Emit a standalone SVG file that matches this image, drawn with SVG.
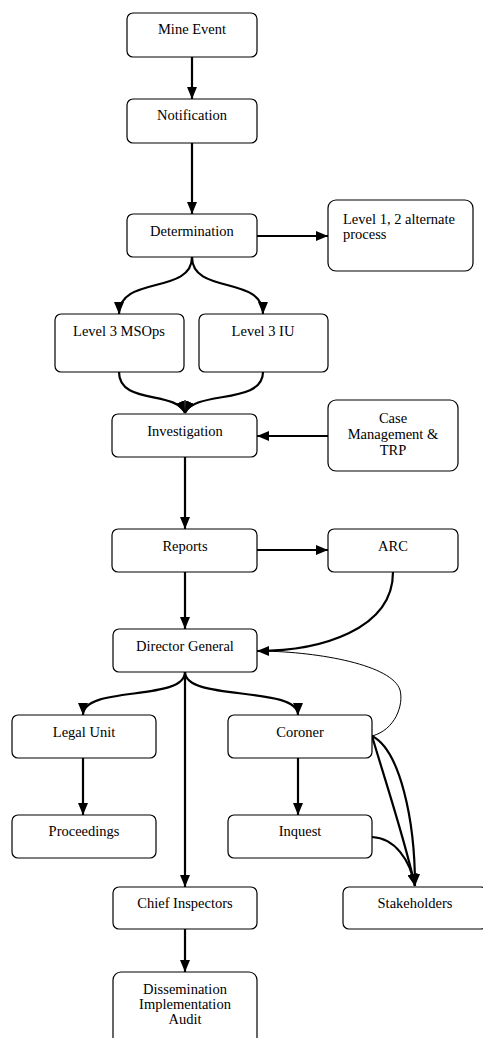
<svg xmlns="http://www.w3.org/2000/svg" width="483" height="1038" viewBox="0 0 483 1038">
<style>
.box{fill:#fff;stroke:#000;stroke-width:1.2}
text{font-family:"Liberation Serif","Times New Roman",serif;font-size:14.5px;fill:#000}
.c{text-anchor:middle}
.e{fill:none;stroke:#000;stroke-width:2.2}
.t{fill:none;stroke:#000;stroke-width:1}
</style>
<defs>
<marker id="ah" markerUnits="userSpaceOnUse" markerWidth="12" markerHeight="10" refX="12" refY="5" orient="auto">
<path d="M0,0 L12,5 L0,10 z" fill="#000"/>
</marker>
</defs>
<rect width="483" height="1038" fill="#fff"/>
<g id="connectors">
<path class="e" d="M192,57 V99" marker-end="url(#ah)"/>
<path class="e" d="M192,143 V214" marker-end="url(#ah)"/>
<path class="e" d="M257,236 H328" marker-end="url(#ah)"/>
<path class="e" d="M192,257 C192,295 119,275 119,314" marker-end="url(#ah)"/>
<path class="e" d="M192,257 C192,295 263,275 263,314" marker-end="url(#ah)"/>
<path class="e" d="M119,372 C119,405 175,390 185,413" marker-end="url(#ah)"/>
<path class="e" d="M263,372 C263,405 195,390 185,413" marker-end="url(#ah)"/>
<path class="e" d="M328,436 H257" marker-end="url(#ah)"/>
<path class="e" d="M185,457 V529" marker-end="url(#ah)"/>
<path class="e" d="M257,550 H328" marker-end="url(#ah)"/>
<path class="e" d="M185,572 V629" marker-end="url(#ah)"/>
<path class="t" d="M372,736 C395,730 404,705 400,690 C392,665 320,652 262,651"/>
<path class="e" d="M393,572 C393,630 320,651 257,651" marker-end="url(#ah)"/>
<path class="e" d="M185,672 C185,702 83,685 83,715" marker-end="url(#ah)"/>
<path class="e" d="M185,672 C185,702 298,685 298,715" marker-end="url(#ah)"/>
<path class="e" d="M185,672 V887" marker-end="url(#ah)"/>
<path class="e" d="M83,758 V815" marker-end="url(#ah)"/>
<path class="e" d="M298,758 V815" marker-end="url(#ah)"/>
<path class="e" d="M185,929 V972" marker-end="url(#ah)"/>
<path class="e" d="M372,736 C385,780 405,840 415,886" marker-end="url(#ah)"/>
<path class="e" d="M372,736 C400,750 415,820 415,886" marker-end="url(#ah)"/>
<path class="e" d="M372,837 C395,838 410,860 415,886" marker-end="url(#ah)"/>
</g>
<g id="mine-event"><rect class="box" x="127" y="13" width="130" height="44" rx="6"/><text class="c" x="192" y="34">Mine Event</text></g>
<g id="notification"><rect class="box" x="127" y="99" width="130" height="44" rx="6"/><text class="c" x="192" y="120">Notification</text></g>
<g id="determination"><rect class="box" x="127" y="214" width="130" height="43" rx="6"/><text class="c" x="192" y="236">Determination</text></g>
<g id="level12"><rect class="box" x="328" y="200" width="145" height="71" rx="8"/><text x="343" y="224">Level 1, 2 alternate</text><text x="343" y="239">process</text></g>
<g id="level3-msops"><rect class="box" x="55" y="314" width="129" height="58" rx="6"/><text class="c" x="119" y="336">Level 3 MSOps</text></g>
<g id="level3-iu"><rect class="box" x="199" y="314" width="129" height="58" rx="6"/><text class="c" x="263" y="336">Level 3 IU</text></g>
<g id="investigation"><rect class="box" x="112" y="414" width="145" height="43" rx="6"/><text class="c" x="185" y="436">Investigation</text></g>
<g id="case-management"><rect class="box" x="328" y="400" width="130" height="71" rx="8"/><text class="c" x="393" y="423">Case</text><text class="c" x="393" y="439">Management &amp;</text><text class="c" x="393" y="455">TRP</text></g>
<g id="reports"><rect class="box" x="112" y="529" width="145" height="43" rx="6"/><text class="c" x="185" y="551">Reports</text></g>
<g id="arc"><rect class="box" x="328" y="529" width="130" height="43" rx="6"/><text class="c" x="393" y="551">ARC</text></g>
<g id="director-general"><rect class="box" x="113" y="629" width="144" height="43" rx="6"/><text class="c" x="185" y="651">Director General</text></g>
<g id="legal-unit"><rect class="box" x="12" y="715" width="144" height="43" rx="6"/><text class="c" x="84" y="737">Legal Unit</text></g>
<g id="coroner"><rect class="box" x="228" y="715" width="144" height="43" rx="6"/><text class="c" x="300" y="737">Coroner</text></g>
<g id="proceedings"><rect class="box" x="12" y="815" width="144" height="43" rx="6"/><text class="c" x="84" y="836">Proceedings</text></g>
<g id="inquest"><rect class="box" x="228" y="815" width="144" height="43" rx="6"/><text class="c" x="300" y="836">Inquest</text></g>
<g id="chief-inspectors"><rect class="box" x="113" y="887" width="144" height="42" rx="6"/><text class="c" x="185" y="908">Chief Inspectors</text></g>
<g id="stakeholders"><rect class="box" x="343" y="887" width="144" height="42" rx="6"/><text class="c" x="415" y="908">Stakeholders</text></g>
<g id="dissemination"><rect class="box" x="113" y="972" width="144" height="80" rx="8"/><text class="c" x="185" y="994">Dissemination</text><text class="c" x="185" y="1009">Implementation</text><text class="c" x="185" y="1024">Audit</text></g>
</svg>
